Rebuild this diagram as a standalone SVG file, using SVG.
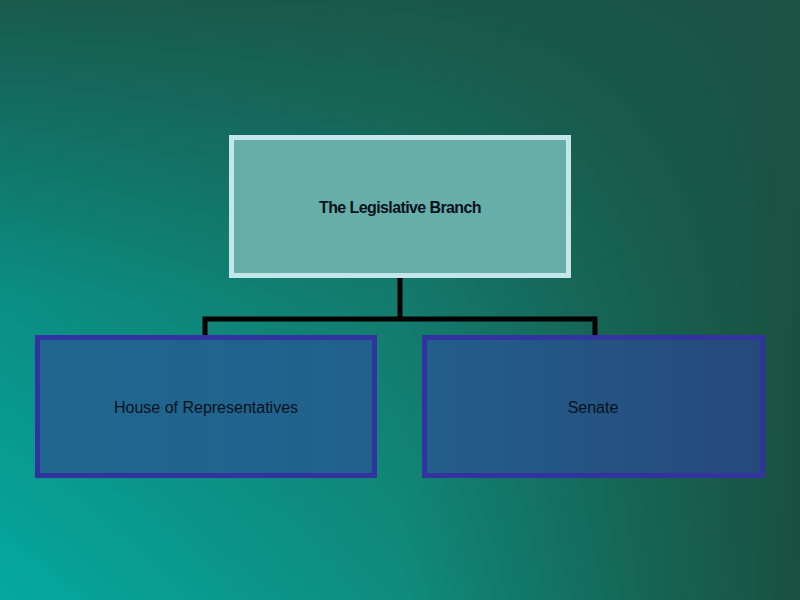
<svg xmlns="http://www.w3.org/2000/svg" width="800" height="600" viewBox="0 0 800 600">
<defs>
<linearGradient id="bgh" x1="0" y1="0" x2="800" y2="0" gradientUnits="userSpaceOnUse">
<stop offset="0" stop-color="#04a9a0"/>
<stop offset="0.5" stop-color="#0f8c7e"/>
<stop offset="0.8" stop-color="#156656"/>
<stop offset="1" stop-color="#1a5040"/>
</linearGradient>
<linearGradient id="bgv" x1="0" y1="0" x2="0" y2="600" gradientUnits="userSpaceOnUse">
<stop offset="0" stop-color="#1a5244" stop-opacity="0.9"/>
<stop offset="0.5" stop-color="#1a5244" stop-opacity="0.3"/>
<stop offset="1" stop-color="#1a5244" stop-opacity="0"/>
</linearGradient>
<linearGradient id="blue" x1="0" y1="0" x2="800" y2="0" gradientUnits="userSpaceOnUse">
<stop offset="0" stop-color="#1f6890"/>
<stop offset="0.5" stop-color="#22608c"/>
<stop offset="1" stop-color="#264678"/>
</linearGradient>
<style>
.top{fill:#68aea8;stroke:#c2e6ea;stroke-width:5}
.sub{fill:url(#blue);stroke:#3333a0;stroke-width:5}
.t{font-family:"Liberation Sans",Arial,sans-serif;font-size:16px;fill:#05121c;text-anchor:middle;dominant-baseline:central}
.conn{fill:none;stroke:#000;stroke-width:5}
</style>
</defs>
<rect width="800" height="600" fill="url(#bgh)"/>
<rect width="800" height="600" fill="url(#bgv)"/>
<g id="connectors">
<path class="conn" d="M400 277 V319 M205 319 H595 M205 316.5 V335 M595 316.5 V335"/>
</g>
<g id="legislative">
<rect class="top" x="231.5" y="137.5" width="337" height="138"/>
<text class="t" x="400" y="207" font-weight="bold" font-size="17" letter-spacing="-0.6">The Legislative Branch</text>
</g>
<g id="house">
<rect class="sub" x="37.5" y="337.5" width="337" height="138"/>
<text class="t" x="206" y="407">House of Representatives</text>
</g>
<g id="senate">
<rect class="sub" x="424.5" y="337.5" width="338" height="138"/>
<text class="t" x="593" y="407">Senate</text>
</g>
</svg>
